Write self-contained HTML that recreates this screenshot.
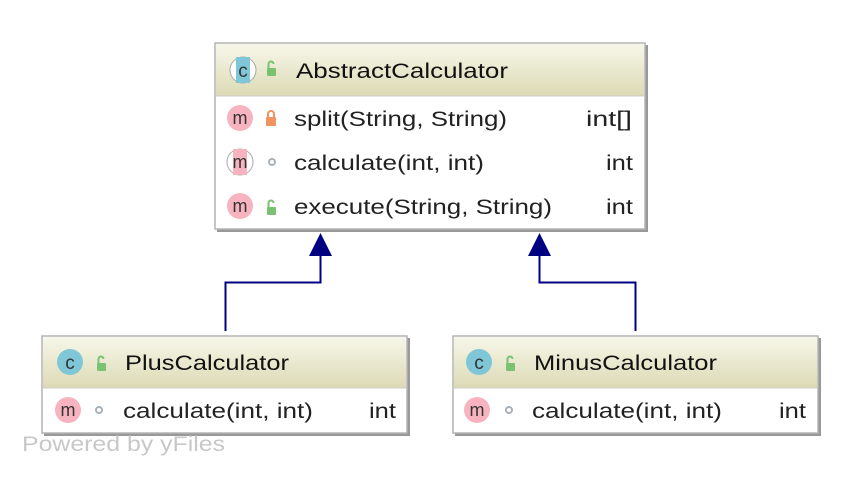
<!DOCTYPE html>
<html><head><meta charset="utf-8"><style>
html,body{margin:0;padding:0;background:#fff;}
svg text{font-family:"Liberation Sans","DejaVu Sans",sans-serif;}
</style></head><body>
<svg width="860" height="476" viewBox="0 0 860 476" xmlns="http://www.w3.org/2000/svg">
<defs>
<linearGradient id="hg" x1="0" y1="0" x2="0" y2="1">
<stop offset="0" stop-color="#f7f7ea"/><stop offset="1" stop-color="#dcdab4"/>
</linearGradient>
</defs>
<polyline points="225.5,331 225.5,282.5 320.5,282.5 320.5,254" fill="none" stroke="#000080" stroke-width="2"/>
<polygon points="320.5,233 332,256 309,256" fill="#000080"/>
<polyline points="635.5,331 635.5,282.5 539.5,282.5 539.5,254" fill="none" stroke="#000080" stroke-width="2"/>
<polygon points="539.5,233 551,256 528,256" fill="#000080"/>

<rect x="217" y="45" width="431" height="187" fill="#999"/>
<rect x="215" y="43" width="430" height="186" fill="#fff" stroke="#b4b4b4" stroke-width="1.5"/>
<rect x="216" y="44" width="428" height="52" fill="url(#hg)"/>
<line x1="216" y1="96" x2="644" y2="96" stroke="#ccc"/>
<circle cx="243" cy="70" r="13" fill="#fff" stroke="#aaa" stroke-width="1"/>
<rect x="236" y="57" width="14" height="26" fill="#7fc6d6"/>
<text x="243" y="77" font-size="19" text-anchor="middle" fill="#333">c</text>
<rect x="267" y="68" width="9" height="8" rx="1" fill="#7ac271"/>
<path d="M268.5 68 v-4 a2.5 2.5 0 0 1 5 0" fill="none" stroke="#7ac271" stroke-width="2"/>
<text x="296" y="78" font-size="21" fill="#111" textLength="212" lengthAdjust="spacingAndGlyphs">AbstractCalculator</text>

<circle cx="240" cy="118" r="13" fill="#f7b4c0"/>
<text x="240" y="124" font-size="18" text-anchor="middle" fill="#333">m</text>
<rect x="266" y="117" width="10" height="9" rx="1" fill="#ef9460"/>
<path d="M268 117 v-3 a3 3 0 0 1 6 0 v3" fill="none" stroke="#ef9460" stroke-width="2"/>
<text x="294" y="126" font-size="21" fill="#222" textLength="213" lengthAdjust="spacingAndGlyphs">split(String, String)</text>
<text x="586" y="126" font-size="21" fill="#222" textLength="46" lengthAdjust="spacingAndGlyphs">int[]</text>

<circle cx="240" cy="162" r="13" fill="#fff" stroke="#aaa"/>
<rect x="233" y="149" width="14" height="26" fill="#f7b4c0"/>
<text x="240" y="168" font-size="18" text-anchor="middle" fill="#333">m</text>
<circle cx="272" cy="162" r="3" fill="none" stroke="#a8b0b8" stroke-width="2"/>
<text x="294" y="170" font-size="21" fill="#222" textLength="190" lengthAdjust="spacingAndGlyphs">calculate(int, int)</text>
<text x="606" y="170" font-size="21" fill="#222" textLength="27" lengthAdjust="spacingAndGlyphs">int</text>

<circle cx="240" cy="206" r="13" fill="#f7b4c0"/>
<text x="240" y="212" font-size="18" text-anchor="middle" fill="#333">m</text>
<rect x="267" y="207" width="9" height="8" rx="1" fill="#7ac271"/>
<path d="M268.5 207 v-4 a2.5 2.5 0 0 1 5 0" fill="none" stroke="#7ac271" stroke-width="2"/>
<text x="294" y="214" font-size="21" fill="#222" textLength="258" lengthAdjust="spacingAndGlyphs">execute(String, String)</text>
<text x="606" y="214" font-size="21" fill="#222" textLength="27" lengthAdjust="spacingAndGlyphs">int</text>

<rect x="44" y="338" width="366" height="98" fill="#999"/>
<rect x="42" y="336" width="365" height="97" fill="#fff" stroke="#b4b4b4" stroke-width="1.5"/>
<rect x="43" y="337" width="363" height="51" fill="url(#hg)"/>
<line x1="43" y1="388" x2="406" y2="388" stroke="#ccc"/>
<circle cx="70" cy="362" r="13" fill="#7fc6d6"/>
<text x="70" y="369" font-size="19" text-anchor="middle" fill="#333">c</text>
<rect x="97" y="363" width="9" height="8" rx="1" fill="#7ac271"/>
<path d="M98.5 363 v-4 a2.5 2.5 0 0 1 5 0" fill="none" stroke="#7ac271" stroke-width="2"/>
<text x="125" y="370" font-size="21" fill="#111" textLength="164" lengthAdjust="spacingAndGlyphs">PlusCalculator</text>
<circle cx="68" cy="410" r="13" fill="#f7b4c0"/>
<text x="68" y="416" font-size="18" text-anchor="middle" fill="#333">m</text>
<circle cx="99" cy="410" r="3" fill="none" stroke="#a8b0b8" stroke-width="2"/>
<text x="123" y="418" font-size="21" fill="#222" textLength="190" lengthAdjust="spacingAndGlyphs">calculate(int, int)</text>
<text x="369" y="418" font-size="21" fill="#222" textLength="27" lengthAdjust="spacingAndGlyphs">int</text>

<rect x="455" y="338" width="366" height="98" fill="#999"/>
<rect x="453" y="336" width="365" height="97" fill="#fff" stroke="#b4b4b4" stroke-width="1.5"/>
<rect x="454" y="337" width="363" height="51" fill="url(#hg)"/>
<line x1="454" y1="388" x2="817" y2="388" stroke="#ccc"/>
<circle cx="479" cy="362" r="13" fill="#7fc6d6"/>
<text x="479" y="369" font-size="19" text-anchor="middle" fill="#333">c</text>
<rect x="506" y="363" width="9" height="8" rx="1" fill="#7ac271"/>
<path d="M507.5 363 v-4 a2.5 2.5 0 0 1 5 0" fill="none" stroke="#7ac271" stroke-width="2"/>
<text x="534" y="370" font-size="21" fill="#111" textLength="183" lengthAdjust="spacingAndGlyphs">MinusCalculator</text>
<circle cx="477" cy="410" r="13" fill="#f7b4c0"/>
<text x="477" y="416" font-size="18" text-anchor="middle" fill="#333">m</text>
<circle cx="509" cy="410" r="3" fill="none" stroke="#a8b0b8" stroke-width="2"/>
<text x="532" y="418" font-size="21" fill="#222" textLength="190" lengthAdjust="spacingAndGlyphs">calculate(int, int)</text>
<text x="779" y="418" font-size="21" fill="#222" textLength="27" lengthAdjust="spacingAndGlyphs">int</text>

<text x="22" y="451" font-size="21" fill="#c8c8c8" textLength="203" lengthAdjust="spacingAndGlyphs">Powered by yFiles</text>
</svg>
</body></html>
